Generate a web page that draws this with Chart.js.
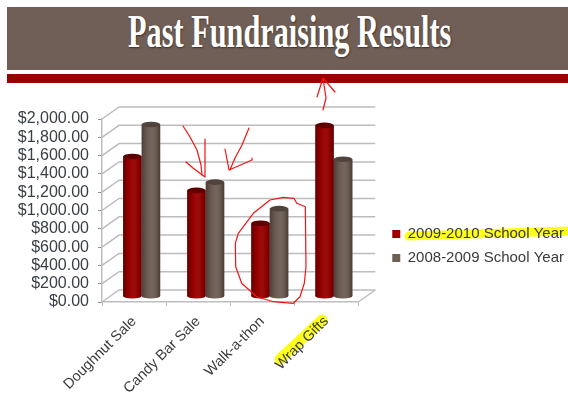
<!DOCTYPE html>
<html><head><meta charset="utf-8">
<style>
html,body{margin:0;padding:0;width:568px;height:394px;overflow:hidden;background:#fff}
#wrap{position:relative;width:568px;height:394px;overflow:hidden}
#band{position:absolute;left:7px;top:7px;width:561px;height:63px;background:#6f5f56}
#rule{position:absolute;left:7px;top:74px;width:561px;height:9px;background:#990000}
#title{position:absolute;left:128px;top:5px;height:56px;line-height:52px;white-space:nowrap;color:#fff;font-family:"Liberation Serif",serif;font-weight:bold;font-size:47px;transform-origin:0 0;transform:scaleX(.645);text-shadow:1px 1px 2px rgba(40,30,25,.7)}
canvas{position:absolute;left:0;top:0}
</style>
<script src="https://cdn.jsdelivr.net/npm/chart.js@4"></script>
</head><body>
<div id="wrap">
<div id="band"></div><div id="rule"></div>
<div id="title">Past Fundraising Results</div>
<canvas id="c" width="574" height="394"></canvas>
</div>
<script>
const categories = ["Doughnut Sale","Candy Bar Sale","Walk-a-thon","Wrap Gifts"];
const series2009 = [1530,1160,800,1870];
const series2008 = [1880,1250,960,1500];
const seriesNames = ["2009-2010 School Year","2008-2009 School Year"];
const tickValues = [0,200,400,600,800,1000,1200,1400,1600,1800,2000];
const colors = ["#990000","#6f5f56"];
const capColors = ["#5e0000","#4f433c"];

const DX=17, DY=-12;         // depth of the 3D wall
const BAR_DX=7.6, BAR_DY=-5.5; // bars stand mid-depth on the floor

const penStrokes = [
 [[323,110],[326,98],[323,78]],
 [[317,97],[323,78],[335,92]],
 [[183,126],[190,137],[197,150],[201,165],[202,175]],
 [[186,162],[193,168],[205,177],[205,139]],
 [[249,128],[242,145],[235,158],[230,170]],
 [[225,149],[229,170],[252,160],[252,158]],
 [[296.7,203.3],[294,198.3],[283.3,197.3],[270,200],[253.3,213.3],[238.3,233.3],[235.3,243.3],[235.7,266.7],[241.7,283.3],[256.7,296.7],[273.3,301.7],[293.3,303.3],[300,296.7],[304.3,283.3],[306,266.7],[305.3,206.7],[296.7,203.3]]
];

const wall = {
 id:'wall',
 beforeDraw(chart){
  const c=chart.ctx, y=chart.scales.y, a=chart.chartArea;
  c.save();
  // yellow highlighter
  c.strokeStyle='#fdfd1e'; c.lineCap='round'; c.lineWidth=11;
  c.beginPath(); c.moveTo(280,359); c.lineTo(322,320); c.stroke();
  c.lineWidth=9;
  c.beginPath(); c.moveTo(409,236); c.lineTo(567,231); c.stroke();
  // wall lines
  c.strokeStyle='#bdbdbd'; c.lineWidth=1.5; c.lineCap='butt';
  y.ticks.forEach(t=>{
   const p=y.getPixelForValue(t.value);
   c.beginPath(); c.moveTo(a.left,p); c.lineTo(a.left+DX,p+DY); c.lineTo(a.right+DX,p+DY); c.stroke();
  });
  const b=y.getPixelForValue(0);
  c.beginPath(); c.moveTo(a.right,b); c.lineTo(a.right+DX,b+DY); c.stroke();
  c.restore();
 },
 beforeDatasetsDraw(chart){ chart.ctx.save(); chart.ctx.translate(BAR_DX,BAR_DY); },
 beforeDatasetDraw(chart,args){
  const c=chart.ctx;
  chart.getDatasetMeta(args.index).data.forEach(el=>{
   c.fillStyle=colors[args.index];
   c.beginPath(); c.ellipse(el.x,el.base,el.width/2,2.5,0,0,Math.PI*2); c.fill();
  });
 },
 afterDatasetDraw(chart,args){
  const c=chart.ctx;
  chart.getDatasetMeta(args.index).data.forEach(el=>{
   const l=el.x-el.width/2, r=el.x+el.width/2;
   const g=c.createLinearGradient(l,0,r,0);
   g.addColorStop(0,'rgba(0,0,0,.32)'); g.addColorStop(.3,'rgba(0,0,0,.05)');
   g.addColorStop(.55,'rgba(255,255,255,.04)'); g.addColorStop(.8,'rgba(0,0,0,.08)');
   g.addColorStop(1,'rgba(0,0,0,.38)');
   c.fillStyle=g;
   c.beginPath(); c.moveTo(l,el.y); c.lineTo(l,el.base);
   c.ellipse(el.x,el.base,el.width/2,2.5,0,Math.PI,0,true);
   c.lineTo(r,el.y); c.closePath(); c.fill();
   c.fillStyle=capColors[args.index];
   c.beginPath(); c.ellipse(el.x,el.y,el.width/2,2.8,0,0,Math.PI*2); c.fill();
  });
 },
 afterDatasetsDraw(chart){ chart.ctx.restore(); },
 afterDraw(chart){
  const c=chart.ctx;
  c.save(); c.strokeStyle='#f01414'; c.lineWidth=1.2; c.lineJoin='round'; c.lineCap='round';
  penStrokes.forEach(s=>{
   c.beginPath(); s.forEach((p,i)=> i?c.lineTo(p[0],p[1]):c.moveTo(p[0],p[1])); c.stroke();
  });
  c.restore();
 }
};

new Chart(document.getElementById('c'),{
 type:'bar',
 data:{labels:categories,datasets:[
  {label:seriesNames[0],data:series2009,backgroundColor:colors[0],clip:false},
  {label:seriesNames[1],data:series2008,backgroundColor:colors[1],clip:false}
 ]},
 options:{
  responsive:false,animation:false,
  layout:{padding:{top:98,left:0,right:0,bottom:0}},
  categoryPercentage:.58,barPercentage:1,
  scales:{
   x:{offset:true,
      grid:{drawOnChartArea:false,drawTicks:true,tickLength:4,color:'#bdbdbd',offset:true},
      border:{color:'#bdbdbd',width:1.5},
      afterFit(s){s.height=92;},
      ticks:{color:'#3a3a3a',font:{family:'"Liberation Sans",sans-serif',size:14.5},
             minRotation:45,maxRotation:45,autoSkip:false,padding:7}},
   y:{min:0,max:2000,
      afterFit(s){s.width=102;},
      afterBuildTicks(s){s.ticks=tickValues.map(v=>({value:v}));},
      grid:{drawOnChartArea:false,tickLength:4,color:'#8f8f8f'},
      border:{color:'#bdbdbd',width:1.5},
      ticks:{color:'#3a3f45',padding:9,autoSkip:false,font:{family:'"Liberation Sans",sans-serif',size:16},
             callback:v=>'$'+v.toLocaleString('en-US',{minimumFractionDigits:2})}},
   spacer:{position:'right',display:true,afterFit(s){s.width=25;},
      grid:{display:false},border:{display:false},ticks:{display:false}}
  },
  plugins:{
   title:{display:true,text:'',padding:{top:21,bottom:0},font:{size:0.01}},
   tooltip:{enabled:false},
   legend:{position:'right',align:'center',maxWidth:200,
     labels:{boxWidth:8,boxHeight:8,padding:9,color:'#3a3a3a',
             font:{family:'"Liberation Sans",sans-serif',size:15}}}
  }
 },
 plugins:[wall]
});
</script>
</body></html>
